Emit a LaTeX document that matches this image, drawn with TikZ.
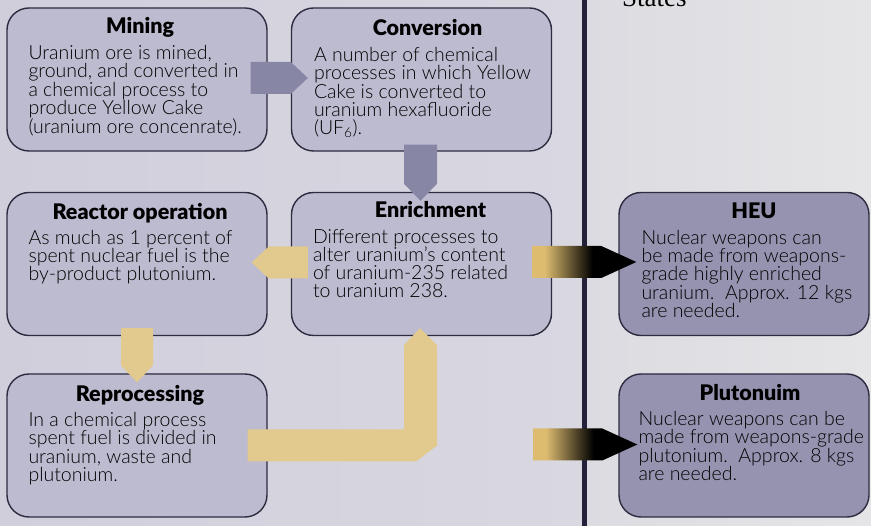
\documentclass[tikz,border=0pt]{standalone}
\usepackage{fontspec}
\IfFontExistsTF{Lato Light}{\setmainfont{Lato Light}}{\setmainfont{Lato}}
\IfFontExistsTF{Lato Black}{\newfontfamily\titlefont{Lato Black}}{\newfontfamily\titlefont{Lato}[UprightFont=*-Bold]}
\newfontfamily\headfont{Liberation Serif}
\usetikzlibrary{calc}

\definecolor{leftbg}{HTML}{D0CEDB}
\definecolor{leftbgr}{HTML}{D9D8E1}
\definecolor{rightbg}{HTML}{DCDBE1}
\definecolor{rightbgr}{HTML}{E5E5E7}
\definecolor{stagefill}{HTML}{BDBBD0}
\definecolor{weaponfill}{HTML}{9593B0}
\definecolor{boxline}{HTML}{2C2B40}
\definecolor{slate}{HTML}{8886A5}
\definecolor{straw}{HTML}{E2C98D}
\definecolor{gold}{HTML}{DDBC70}
\definecolor{divider}{HTML}{23223A}

\pgfdeclarehorizontalshading{goldfade}{100bp}{color(0bp)=(gold); color(31bp)=(gold); color(54bp)=(black); color(100bp)=(black)}

\tikzset{
  stagebox/.style={draw=boxline, line width=1.4pt, rounded corners=22pt, fill=stagefill, minimum width=260pt, minimum height=143pt},
  weaponbox/.style={stagebox, fill=weaponfill, minimum width=250pt},
  boxtitle/.style={anchor=base, inner sep=0pt, font=\titlefont\fontsize{21.5}{21.5}\selectfont},
  boxbody/.style={anchor=north west, align=left, inner sep=0pt, font=\fontsize{19.5}{18.3}\selectfont},
  blkhead/.store in=\blkhead, blkhalf/.store in=\blkhalf,
  blkhead=17pt, blkhalf=16pt,
  blockarrow/.style={to path={
    ($(\tikztostart)!\blkhalf!90:(\tikztotarget)$)
    -- ($(\tikztotarget)!\blkhead!(\tikztostart)!\blkhalf!90:(\tikztotarget)$)
    -- (\tikztotarget)
    -- ($(\tikztotarget)!\blkhead!(\tikztostart)!\blkhalf!-90:(\tikztotarget)$)
    -- ($(\tikztostart)!\blkhalf!-90:(\tikztotarget)$) -- cycle}},
}

\begin{document}
\begin{tikzpicture}[x=1pt, y=-1pt]
\useasboundingbox (0,0) rectangle (871,526);
% two panels
\shade[left color=leftbg, right color=leftbgr] (0,0) rectangle (584,526);
\shade[left color=rightbg, right color=rightbgr] (584,0) rectangle (871,526);
\draw[divider, line width=5pt] (584,0) -- (584,526);
\node[anchor=base west, inner sep=0pt, font=\headfont\fontsize{27}{27}\selectfont] (states) at (622,7) {States};

% stages
\node[stagebox] (mining) at (137,79.5) {};
\node[stagebox] (conversion) at (421.5,79.5) {};
\node[stagebox] (reactor) at (137,264) {};
\node[stagebox] (enrichment) at (421.5,264) {};
\node[stagebox] (reprocessing) at (137,445.5) {};
\node[weaponbox] (heu) at (744,264) {};
\node[weaponbox] (plutonium) at (744,445.5) {};

\node[boxtitle] (miningtitle) at ($(mining.north)+(3,26)$) {Mining};
\node[boxbody] (miningtext) at ($(mining.north west)+(22,38)$) {Uranium ore is mined,\\ground, and converted in\\a chemical process to\\produce Yellow Cake\\(uranium ore concenrate).};
\node[boxtitle] (conversiontitle) at ($(conversion.north)+(6,28)$) {Conversion};
\node[boxbody] (conversiontext) at ($(conversion.north west)+(23,40)$) {A number of chemical\\processes in which Yellow\\Cake is converted to\\uranium hexafluoride\\(UF\textsubscript{6}).};
\node[boxtitle] (reactortitle) at ($(reactor.north)+(3,28)$) {Reactor operation};
\node[boxbody] (reactortext) at ($(reactor.north west)+(22,38)$) {As much as 1 percent of\\spent nuclear fuel is the\\by-product plutonium.};
\node[boxtitle] (enrichmenttitle) at ($(enrichment.north)+(9,26)$) {Enrichment};
\node[boxbody] (enrichmenttext) at ($(enrichment.north west)+(22,37)$) {Different processes to\\alter uranium’s content\\of uranium-235 related\\to uranium 238.};
\node[boxtitle] (reprocessingtitle) at ($(reprocessing.north)+(3,28)$) {Reprocessing};
\node[boxbody] (reprocessingtext) at ($(reprocessing.north west)+(22,39)$) {In a chemical process\\spent fuel is divided in\\uranium, waste and\\plutonium.};
\node[boxtitle] (heutitle) at ($(heu.north)+(10,27)$) {HEU};
\node[boxbody] (heutext) at ($(heu.north west)+(23,38)$) {Nuclear weapons can\\be made from weapons-\\grade highly enriched\\uranium.\ \ Approx. 12 kgs\\are needed.};
\node[boxtitle] (plutoniumtitle) at ($(plutonium.north)+(6,27)$) {Plutonuim};
\node[boxbody] (plutoniumtext) at ($(plutonium.north west)+(20,38)$) {Nuclear weapons can be\\made from weapons-grade\\plutonium.\ \ Approx. 8 kgs\\are needed.};

% flow arrows
\coordinate (mc1) at ($(mining.east)+(-17,-1.5)$);
\coordinate (mc2) at ($(conversion.west)+(17,-1.5)$);
\fill[slate] (mc1) to[blockarrow] (mc2);
\coordinate (ce1) at ($(conversion.south)+(-1,-7)$);
\coordinate (ce2) at ($(enrichment.north)+(-1,9)$);
\fill[slate, blkhalf=16.5pt] (ce1) to[blockarrow] (ce2);
\coordinate (er1) at ($(enrichment.west)+(17,-1.5)$);
\coordinate (er2) at ($(reactor.east)+(-16,-1.5)$);
\fill[straw] (er1) to[blockarrow] (er2);
\coordinate (rr1) at ($(reactor.south)+(0,-8)$);
\coordinate (rr2) at ($(reprocessing.north)+(0,9)$);
\fill[straw] (rr1) to[blockarrow] (rr2);
\coordinate (bend) at (enrichment.south |- reprocessing.east);
\fill[straw] ($(reprocessing.east)+(-20,-16)$) -- ($(bend)+(-17.5,-16)$)
  -- ($(enrichment.south)+(-17.5,9)$) -- ($(enrichment.south)+(-1.5,-8)$)
  -- ($(enrichment.south)+(15.5,9)$) -- ($(bend)+(15.5,0)$)
  -- ($(bend)+(-5.5,16)$) -- ($(reprocessing.east)+(-20,16)$) -- cycle;

% to the weapons
\coordinate (eh1) at ($(enrichment.east)+(-20,-2)$);
\coordinate (eh2) at ($(heu.west)+(18,-2)$);
\shade[shading=goldfade, blkhead=35pt] (eh1) to[blockarrow] (eh2);
\coordinate (pp1) at ($(enrichment.east |- plutonium.west)+(-19,-1)$);
\coordinate (pp2) at ($(plutonium.west)+(19,-1)$);
\shade[shading=goldfade, blkhead=35pt] (pp1) to[blockarrow] (pp2);
\end{tikzpicture}
\end{document}
